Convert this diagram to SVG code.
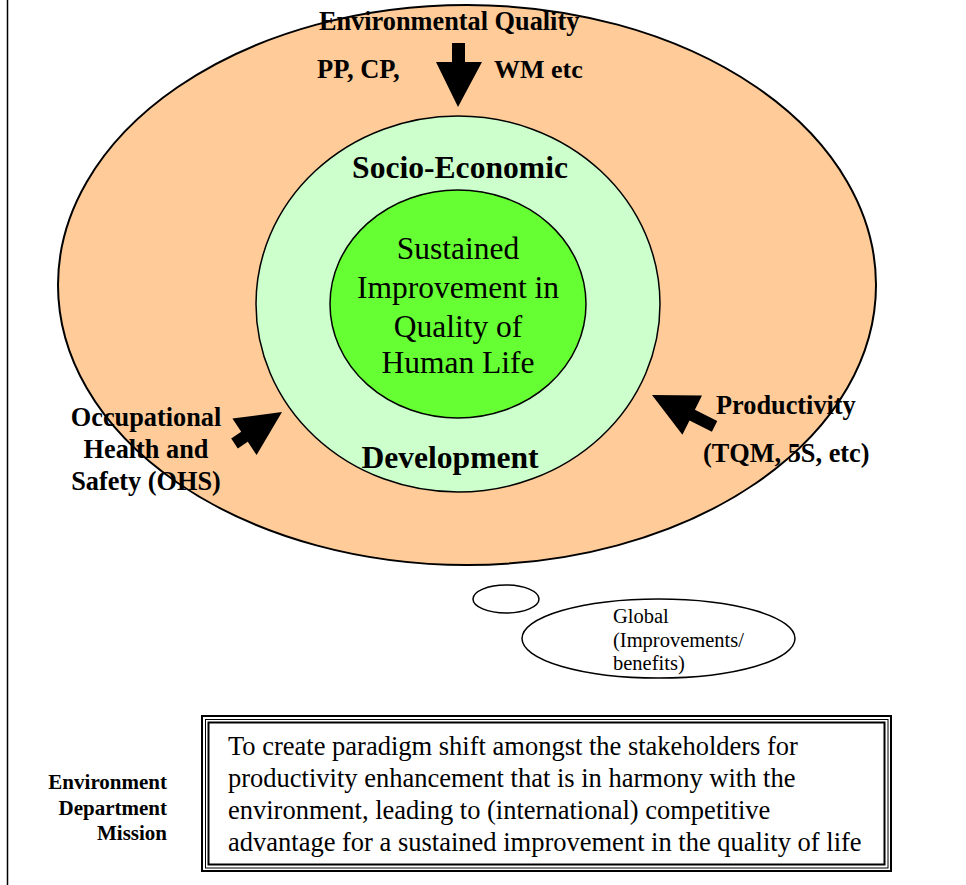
<svg xmlns="http://www.w3.org/2000/svg" width="966" height="885" viewBox="0 0 966 885">
<style>
.b{font-family:"Liberation Serif","Times New Roman",serif;font-weight:bold;fill:#000}
.r{font-family:"Liberation Serif","Times New Roman",serif;fill:#000}
.ln{fill:none;stroke:#000}
</style>
<rect x="0" y="0" width="966" height="885" fill="#fff"/>
<line x1="7.5" y1="0" x2="7.5" y2="885" stroke="#000" stroke-width="1.5"/>
<g id="outer">
<ellipse cx="467" cy="285" rx="409" ry="280" fill="#FFCC99" stroke="#000" stroke-width="2"/>
</g>
<g id="middle">
<ellipse cx="458" cy="304" rx="202" ry="188" fill="#CCFFCC" stroke="#000" stroke-width="1.5"/>
<text class="b" x="460" y="178" font-size="31.6" text-anchor="middle">Socio-Economic</text>
<text class="b" x="450" y="468" font-size="31.6" text-anchor="middle">Development</text>
</g>
<g id="inner">
<ellipse cx="458" cy="304" rx="128" ry="114" fill="#66FF33" stroke="#000" stroke-width="1.5"/>
<text class="r" font-size="31.5" text-anchor="middle"><tspan x="458" y="259">Sustained</tspan><tspan x="458" y="298">Improvement in</tspan><tspan x="458" y="337">Quality of</tspan><tspan x="458" y="373">Human Life</tspan></text>
</g>
<g id="env-quality">
<text class="b" x="319" y="30" font-size="26.3">Environmental Quality</text>
<text class="b" x="317" y="78" font-size="26.5">PP, CP,</text>
<text class="b" x="494" y="78" font-size="26">WM etc</text>
</g>
<g id="ohs">
<text class="b" font-size="26.3" text-anchor="middle"><tspan x="146" y="426">Occupational</tspan><tspan x="146" y="458">Health and</tspan><tspan x="146" y="490">Safety (OHS)</tspan></text>
</g>
<g id="productivity">
<text class="b" x="716" y="414" font-size="26.3">Productivity</text>
<text class="b" x="703" y="462" font-size="26.3">(TQM, 5S, etc)</text>
</g>
<g id="connectors">
<polygon points="452,43 465,43 465,62 482,62 458,107 436,62 452,62" fill="#000"/>
<polygon points="282,412 256.6,455.1 247.8,441.8 237.8,448.4 231.2,438.4 241.2,431.8 232.4,418.5" fill="#000"/>
<polygon points="652,395 702,395.4 694.9,409.7 717.3,420.9 711.9,431.7 689.5,420.5 682.4,434.8" fill="#000"/>
</g>
<g id="bubble-small">
<ellipse cx="506" cy="599" rx="33" ry="14" fill="#fff" stroke="#000" stroke-width="1.5"/>
</g>
<g id="bubble-global">
<ellipse cx="658.5" cy="638.5" rx="136.5" ry="39.5" fill="#fff" stroke="#000" stroke-width="1.5"/>
<text class="r" font-size="20.5"><tspan x="613" y="623">Global</tspan><tspan x="613" y="647">(Improvements/</tspan><tspan x="613" y="670">benefits)</tspan></text>
</g>
<g id="mission-label">
<text class="b" font-size="21" text-anchor="end"><tspan x="167" y="789">Environment</tspan><tspan x="167" y="815">Department</tspan><tspan x="167" y="840">Mission</tspan></text>
</g>
<g id="mission-box">
<rect x="202" y="716" width="689" height="155" class="ln" stroke-width="2"/>
<rect x="205.5" y="719.5" width="682.5" height="148.5" class="ln" stroke-width="1"/>
<rect x="208.5" y="722.5" width="676" height="142" class="ln" stroke-width="2"/>
<text class="r" font-size="26.5"><tspan x="228" y="755">To create paradigm shift amongst the stakeholders for</tspan><tspan x="228" y="787">productivity enhancement that is in harmony with the</tspan><tspan x="228" y="819">environment, leading to (international) competitive</tspan><tspan x="228" y="851">advantage for a sustained improvement in the quality of life</tspan></text>
</g>
</svg>
